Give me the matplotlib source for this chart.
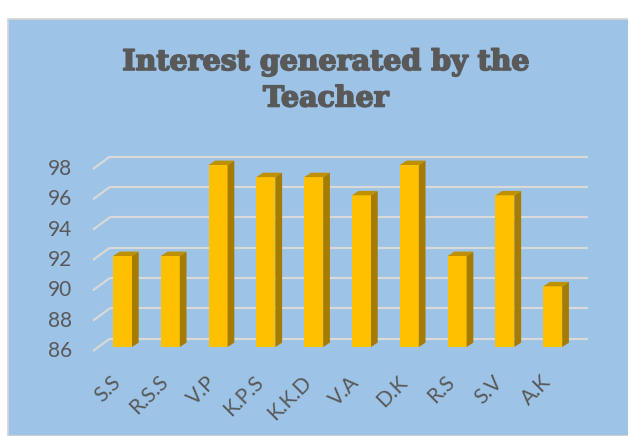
import matplotlib.pyplot as plt
import matplotlib.patheffects as pe
from matplotlib.patches import Polygon, Rectangle

# data
teachers = ['S.S', 'R.S.S', 'V.P', 'K.P.S', 'K.K.D', 'V.A', 'D.K', 'R.S', 'S.V', 'A.K']
interest = [92, 92, 98, 97.2, 97.2, 96, 98, 92, 96, 90]
y_ticks = [86, 88, 90, 92, 94, 96, 98]

title = 'Interest generated by the\nTeacher'
bg_blue = '#9DC3E6'
front_col = '#FFC000'
side_col = '#A67C00'
top_col = '#BF9000'
grid_col = '#D9D9D9'
text_col = '#595959'

fig = plt.figure(figsize=(6.28, 4.36), dpi=100)
fig.patch.set_facecolor('white')

# blue chart area with a thin grey border on the left/top
fig.patches.append(Rectangle((8/628, 0), 1, (436-19)/436, transform=fig.transFigure,
	facecolor=bg_blue, edgecolor='#D6D6D6', linewidth=1.2, zorder=-5))

# axes in pixel terms: front faces of the bars from y=347 (86) to y=165 (98)
ax = fig.add_axes([93/628, (436-347)/436, (588-93)/628, 182/436])
ax.set_zorder(2)
ax.set_xlim(-0.617, 9.738)
ax.set_ylim(86, 98)
ax.axis('off')

# size of one pixel in data units
px = 1/47.8
py = 12/182.0
xl, xr = ax.get_xlim()
floor = y_ticks[0]

# gridlines on the back wall plus the little diagonal at the front
for v in y_ticks:
	yb = v + 8.5*py
	yf = v - 4*py
	ax.plot([xl + 17*px, xr], [yb, yb], color=grid_col, lw=1.6, zorder=1, clip_on=False,
		solid_capstyle='butt')
	ax.plot([xl, xl + 17*px], [yf, yb], color=grid_col, lw=1.6, zorder=1, clip_on=False,
		solid_capstyle='butt')
	ax.text(xl - 21*px, yf, str(v), ha='right', va='center', fontsize=15,
		color=text_col, family='Lato')

# 3d-ish bars: front face + side + top
w = 19*px
dx = 6.7*px
dy = 4.4*py
xs = list(range(len(teachers)))
ax.bar(xs, [v - floor for v in interest], bottom=floor, width=w, color=front_col,
	zorder=3, clip_on=False)
for i, v in zip(xs, interest):
	r = i + w/2
	l = i - w/2
	side = Polygon([(r, floor), (r + dx, floor + dy), (r + dx, v + dy), (r, v)],
		closed=True, facecolor=side_col, edgecolor='none', zorder=3, clip_on=False)
	top = Polygon([(l, v), (r, v), (r + dx, v + dy), (l + dx, v + dy)],
		closed=True, facecolor=top_col, edgecolor='none', zorder=3, clip_on=False)
	ax.add_patch(side)
	ax.add_patch(top)
	ax.text(i + 2*px, floor - 25*py, teachers[i], rotation=45, ha='right', va='top',
		fontsize=15, color=text_col, family='Lato')

# title is a heavy slab serif in the original, thicken it a bit with a stroke
t = fig.text(326/628, 1 - 49/436, title, ha='center', va='top', fontsize=20.5,
	fontweight='bold', family='DejaVu Serif', color=text_col, linespacing=1.45)
t.set_path_effects([pe.withStroke(linewidth=1.2, foreground=text_col)])

plt.savefig('out.png', dpi=100)
